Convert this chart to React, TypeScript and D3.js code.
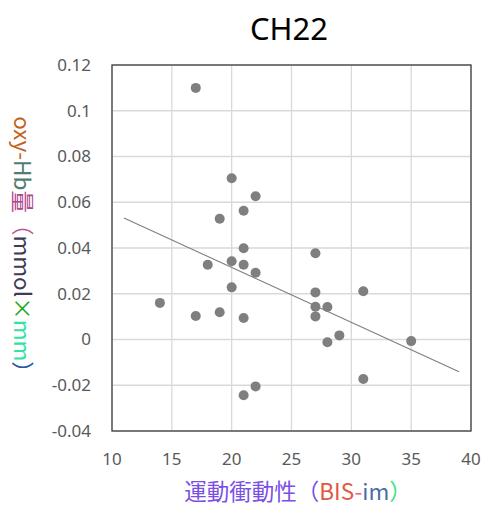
import React from "react";
import * as d3 from "d3";

const bisIm = [14, 17, 19, 21, 18, 20, 21, 21, 22, 20, 27, 27, 27, 28, 27, 31, 29, 28, 35, 31, 22, 21, 17, 20, 22, 21, 19];
const oxyHb = [0.016, 0.0103, 0.0119, 0.0094, 0.0327, 0.0342, 0.0327, 0.0399, 0.0292, 0.0228, 0.0377, 0.0206, 0.0143, 0.0142, 0.0101, 0.0211, 0.0018, -0.0012, -0.0007, -0.0173, -0.0205, -0.0244, 0.110, 0.0705, 0.0626, 0.0563, 0.0528];
const xTicks = [10, 15, 20, 25, 30, 35, 40];
const yTicks = [-0.04, -0.02, 0, 0.02, 0.04, 0.06, 0.08, 0.1, 0.12];
const yTickLabels = ["-0.04", "-0.02", "0", "0.02", "0.04", "0.06", "0.08", "0.1", "0.12"];
const trendRange = [11, 39];
const title = "CH22";
const xLabelParts = [
  { t: "運動衝動性（", c: "#7a4fe6" },
  { t: "BIS", c: "#e2563f" },
  { t: "-", c: "#f2627e" },
  { t: "im", c: "#4d6ca6" },
  { t: "）", c: "#3ddf88" },
];
const yLabelParts = [
  { t: "oxy-", c: "#c2621c" },
  { t: "Hb", c: "#4f7d70" },
  { t: "量", c: "#b0468c" },
  { t: "（", c: "#c25694" },
  { t: "mmol", c: "#3d3b55" },
  { t: "×", c: "#17a81a" },
  { t: "mm", c: "#2fe3a6" },
  { t: "）", c: "#2b58a8" },
];

const W = 483, H = 506;
const L = 112, R = 471, T = 65, B = 431;

export default function App() {
  const x = d3.scaleLinear().domain([10, 40]).range([L, R]);
  const y = d3.scaleLinear().domain([-0.04, 0.12]).range([B, T]);
  const mx = d3.mean(bisIm)!, my = d3.mean(oxyHb)!;
  let sxy = 0, sxx = 0;
  bisIm.forEach((v, i) => { sxy += (v - mx) * (oxyHb[i] - my); sxx += (v - mx) * (v - mx); });
  const slope = sxy / sxx, icpt = my - slope * mx;
  const line = d3.line<number>().x(d => x(d)).y(d => y(icpt + slope * d));
  const font = "'Noto Sans', 'Noto Sans CJK JP', sans-serif";
  const cjk = "'Noto Sans CJK JP', 'Noto Sans', sans-serif";
  return (
    <svg width={W} height={H} style={{ position: "fixed", left: 0, top: 0, background: "#fff" }}>
      <rect x={0} y={0} width={W} height={H} fill="#fff" />
      <text x={289} y={40} textAnchor="middle" fontFamily={font} fontSize={31} fill="#000">{title}</text>
      {xTicks.map(t => (
        <line key={"gx" + t} x1={x(t)} x2={x(t)} y1={T} y2={B} stroke="#d9d9d9" strokeWidth={1.3} />
      ))}
      {yTicks.map(t => (
        <line key={"gy" + t} x1={L} x2={R} y1={y(t)} y2={y(t)} stroke="#d9d9d9" strokeWidth={1.3} />
      ))}
      <rect x={L} y={T} width={R - L} height={B - T} fill="none" stroke="#404040" strokeWidth={1.3} />
      {xTicks.map(t => (
        <text key={"tx" + t} x={x(t)} y={465} textAnchor="middle" fontFamily={font} fontSize={17} fill="#595959">{t}</text>
      ))}
      {yTicks.map((t, i) => (
        <text key={"ty" + t} x={91} y={y(t)} dy="0.35em" textAnchor="end" fontFamily={font} fontSize={17} fill="#595959">{yTickLabels[i]}</text>
      ))}
      <path d={line(trendRange) || ""} fill="none" stroke="#808080" strokeWidth={1.2} />
      {bisIm.map((v, i) => (
        <circle key={"p" + i} cx={x(v)} cy={y(oxyHb[i])} r={5} fill="#7f7f7f" />
      ))}
      <text x={298} y={500} textAnchor="middle" fontFamily={cjk} fontSize={22.5}>
        {xLabelParts.map((p, i) => <tspan key={i} fill={p.c}>{p.t}</tspan>)}
      </text>
      <text transform={`translate(14,250) rotate(90)`} textAnchor="middle" fontFamily={cjk} fontSize={22.5}>
        {yLabelParts.map((p, i) => <tspan key={i} fill={p.c}>{p.t}</tspan>)}
      </text>
    </svg>
  );
}
